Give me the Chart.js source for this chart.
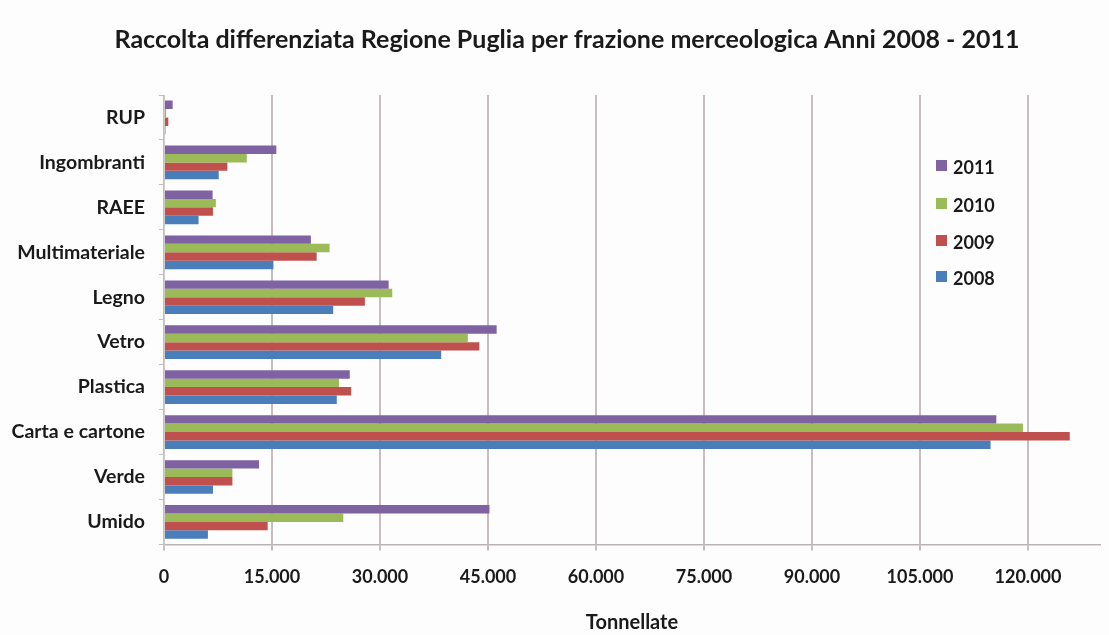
<!DOCTYPE html>
<html>
<head>
<meta charset="utf-8">
<script src="https://cdn.jsdelivr.net/npm/chart.js@4/dist/chart.umd.min.js"></script>
<style>
  html, body { margin: 0; padding: 0; background: #fdfdfd; }
  #wrap { width: 1109px; height: 635px; }
</style>
</head>
<body>
<div id="wrap"><canvas id="chart" width="1109" height="635"></canvas></div>
<script>
// Categories, top to bottom
const categories = ["RUP", "Ingombranti", "RAEE", "Multimateriale", "Legno", "Vetro", "Plastica", "Carta e cartone", "Verde", "Umido"]

// Tonnellate per year
const years = ["2011", "2010", "2009", "2008"]
const values2011 = [1200, 15600, 6750, 20400, 31200, 46200, 25800, 115600, 13200, 45200]
const values2010 = [300, 11500, 7200, 23000, 31700, 42200, 24300, 119300, 9500, 24900]
const values2009 = [600, 8800, 6800, 21200, 27900, 43800, 26000, 125800, 9500, 14400]
const values2008 = [200, 7600, 4800, 15200, 23500, 38500, 24000, 114800, 6800, 6100]

const xTicks = [0, 15000, 30000, 45000, 60000, 75000, 90000, 105000, 120000]
const colors = ["#7f62a1", "#9bbb59", "#c0504d", "#4a7ebb"]

const fontFamily = "Lato, 'Open Sans', sans-serif"
const textColor = "#1a1a1a"

// Legend drawn inside the plot area, like the original
const insideLegend = {
  id: "insideLegend",
  afterLayout(chart) {
    // title sits a bit right of the canvas centre in the original
    if (chart.titleBlock) chart.titleBlock.left = 34
  },
  afterDraw(chart) {
    const ctx = chart.ctx
    const x = 936
    const rowsY = [167, 205, 242, 278]
    ctx.save()
    ctx.font = "bold 18px " + fontFamily
    ctx.textBaseline = "middle"
    chart.data.datasets.forEach((ds, i) => {
      ctx.fillStyle = ds.backgroundColor
      ctx.fillRect(x, rowsY[i] - 7, 11, 11)
      ctx.fillStyle = textColor
      ctx.fillText(ds.label, x + 17, rowsY[i] + 1)
    })
    ctx.restore()
  },
}

new Chart(document.getElementById("chart"), {
  type: "bar",
  data: {
    labels: categories,
    datasets: [
      { label: years[0], data: values2011, backgroundColor: colors[0] },
      { label: years[1], data: values2010, backgroundColor: colors[1] },
      { label: years[2], data: values2009, backgroundColor: colors[2] },
      { label: years[3], data: values2008, backgroundColor: colors[3] },
    ],
  },
  options: {
    indexAxis: "y",
    responsive: false,
    animation: false,
    layout: { padding: { left: 0, right: 9, top: 0, bottom: 0 } },
    datasets: {
      bar: { categoryPercentage: 0.75, barPercentage: 1.0 },
    },
    plugins: {
      legend: { display: false },
      tooltip: { enabled: false },
      title: {
        display: true,
        text: "Raccolta differenziata Regione Puglia per frazione merceologica Anni 2008 - 2011",
        color: textColor,
        font: { family: fontFamily, size: 25, weight: "bold" },
        padding: { top: 25, bottom: 40 },
      },
    },
    scales: {
      x: {
        min: 0,
        max: 130000,
        afterBuildTicks: (axis) => {
          axis.ticks = xTicks.map((v) => ({ value: v }))
        },
        ticks: {
          color: textColor,
          font: { family: fontFamily, size: 18, weight: "bold" },
          padding: 16,
          maxRotation: 0,
          callback: (value) => value.toLocaleString("it-IT"),
        },
        grid: {
          color: "#c6bebe",
          lineWidth: 2,
          tickLength: 6,
        },
        border: { color: "#b9b3b3", width: 1.5 },
        title: {
          display: true,
          text: "Tonnellate",
          color: textColor,
          font: { family: fontFamily, size: 20, weight: "bold" },
          padding: { top: 7, bottom: 0 },
        },
      },
      y: {
        afterFit: (scale) => {
          scale.width = 164
        },
        ticks: {
          color: textColor,
          font: { family: fontFamily, size: 19.5, weight: "bold" },
          padding: 14,
        },
        grid: {
          display: true,
          drawOnChartArea: false,
          color: "#c4bcbc",
          tickLength: 5,
        },
        border: { color: "#d0cccc", width: 1 },
      },
    },
  },
  plugins: [insideLegend],
})
</script>
</body>
</html>
